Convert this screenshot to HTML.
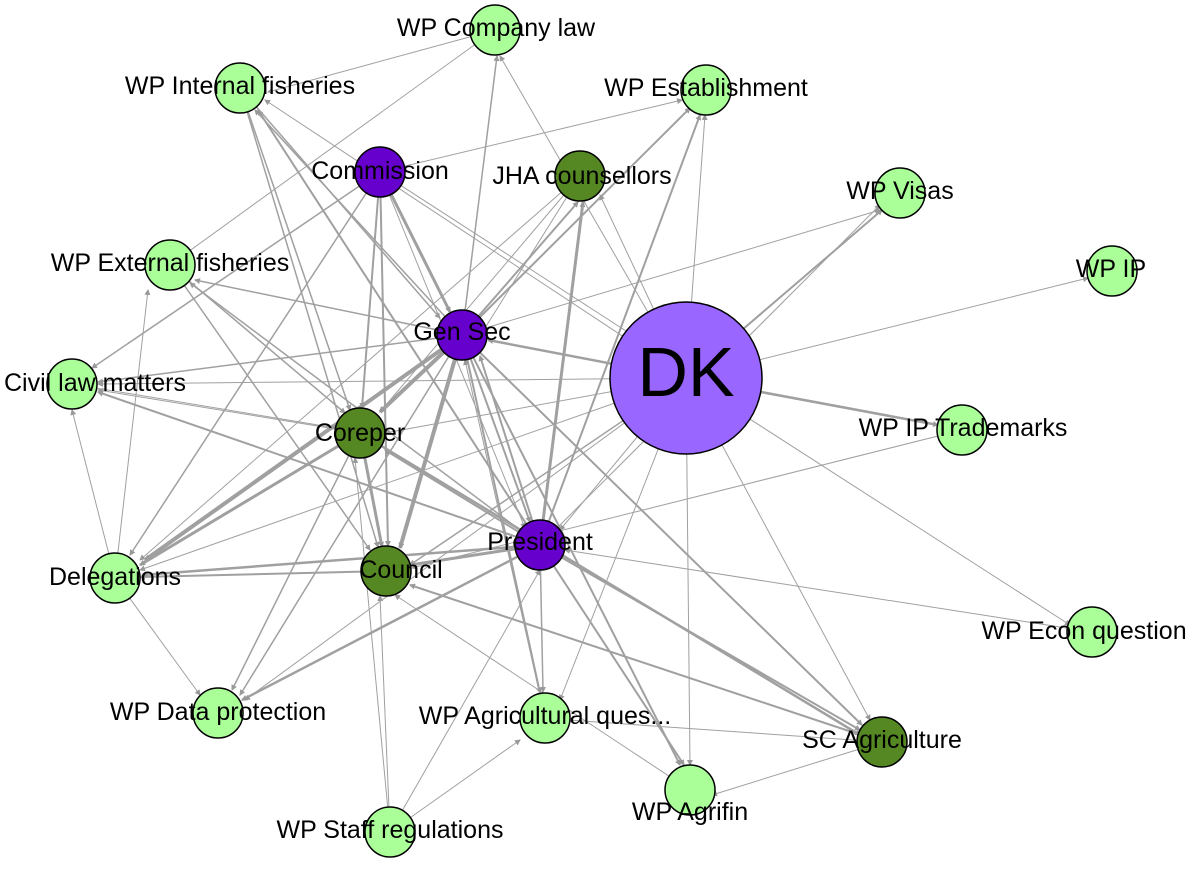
<!DOCTYPE html>
<html><head><meta charset="utf-8"><style>
html,body{margin:0;padding:0;background:#fff;}
svg text{font-family:"Liberation Sans",Arial,sans-serif;font-size:25px;fill:#000;text-anchor:middle;dominant-baseline:central;}
</style></head><body>
<svg width="1191" height="870" viewBox="0 0 1191 870" xmlns="http://www.w3.org/2000/svg">
<defs><marker id="a" markerWidth="6" markerHeight="6" refX="5" refY="3" orient="auto" markerUnits="userSpaceOnUse"><path d="M0,0L6,3L0,6z" fill="#999"/></marker></defs>
<g stroke="#a0a0a0" fill="none" marker-end="url(#a)">
<line x1="462" y1="335" x2="145" y2="560" stroke-width="4"/>
<line x1="462" y1="335" x2="380" y2="412" stroke-width="4"/>
<line x1="462" y1="335" x2="400" y2="548" stroke-width="4"/>
<line x1="462" y1="335" x2="578" y2="202" stroke-width="2"/>
<line x1="462" y1="335" x2="690" y2="108" stroke-width="2"/>
<line x1="462" y1="335" x2="497" y2="56" stroke-width="1.5"/>
<line x1="462" y1="335" x2="255" y2="110" stroke-width="1.5"/>
<line x1="462" y1="335" x2="195" y2="280" stroke-width="1.5"/>
<line x1="462" y1="335" x2="98" y2="382" stroke-width="1.5"/>
<line x1="462" y1="335" x2="240" y2="695" stroke-width="1.5"/>
<line x1="462" y1="335" x2="540" y2="693" stroke-width="2"/>
<line x1="462" y1="335" x2="680" y2="765" stroke-width="2"/>
<line x1="462" y1="335" x2="862" y2="725" stroke-width="2"/>
<line x1="462" y1="335" x2="880" y2="210" stroke-width="1"/>
<line x1="462" y1="335" x2="530" y2="522" stroke-width="2"/>
<line x1="380" y1="172" x2="450" y2="312" stroke-width="3"/>
<line x1="380" y1="172" x2="362" y2="408" stroke-width="2"/>
<line x1="380" y1="172" x2="388" y2="546" stroke-width="2"/>
<line x1="380" y1="172" x2="92" y2="368" stroke-width="1.5"/>
<line x1="380" y1="172" x2="130" y2="555" stroke-width="1.5"/>
<line x1="380" y1="172" x2="682" y2="100" stroke-width="1"/>
<line x1="380" y1="172" x2="525" y2="528" stroke-width="1"/>
<line x1="380" y1="172" x2="640" y2="340" stroke-width="1"/>
<line x1="540" y1="545" x2="142" y2="575" stroke-width="2.5"/>
<line x1="540" y1="545" x2="410" y2="565" stroke-width="3"/>
<line x1="540" y1="545" x2="385" y2="450" stroke-width="2"/>
<line x1="540" y1="545" x2="98" y2="392" stroke-width="2"/>
<line x1="540" y1="545" x2="583" y2="202" stroke-width="3"/>
<line x1="540" y1="545" x2="700" y2="115" stroke-width="2"/>
<line x1="540" y1="545" x2="242" y2="700" stroke-width="2.5"/>
<line x1="540" y1="545" x2="543" y2="692" stroke-width="1.5"/>
<line x1="540" y1="545" x2="684" y2="765" stroke-width="2"/>
<line x1="540" y1="545" x2="860" y2="730" stroke-width="2"/>
<line x1="540" y1="545" x2="480" y2="356" stroke-width="2"/>
<line x1="540" y1="545" x2="258" y2="110" stroke-width="2"/>
<line x1="540" y1="545" x2="190" y2="283" stroke-width="1.5"/>
<line x1="540" y1="545" x2="880" y2="205" stroke-width="1"/>
<line x1="360" y1="433" x2="140" y2="565" stroke-width="3"/>
<line x1="360" y1="433" x2="382" y2="547" stroke-width="3"/>
<line x1="360" y1="433" x2="860" y2="735" stroke-width="2.5"/>
<line x1="360" y1="433" x2="232" y2="690" stroke-width="1.5"/>
<line x1="360" y1="433" x2="98" y2="390" stroke-width="1"/>
<line x1="170" y1="265" x2="345" y2="413" stroke-width="1.5"/>
<line x1="240" y1="88" x2="350" y2="410" stroke-width="1.5"/>
<line x1="72" y1="384" x2="336" y2="428" stroke-width="1"/>
<line x1="386" y1="571" x2="140" y2="577" stroke-width="2"/>
<line x1="882" y1="742" x2="410" y2="585" stroke-width="2"/>
<line x1="170" y1="265" x2="370" y2="550" stroke-width="1.5"/>
<line x1="240" y1="88" x2="378" y2="547" stroke-width="1.5"/>
<line x1="390" y1="832" x2="380" y2="596" stroke-width="1"/>
<line x1="686" y1="378" x2="488" y2="340" stroke-width="2.5"/>
<line x1="686" y1="378" x2="882" y2="210" stroke-width="2"/>
<line x1="686" y1="378" x2="1088" y2="278" stroke-width="1"/>
<line x1="686" y1="378" x2="938" y2="425" stroke-width="2.5"/>
<line x1="686" y1="378" x2="1070" y2="625" stroke-width="1"/>
<line x1="686" y1="378" x2="690" y2="765" stroke-width="1"/>
<line x1="686" y1="378" x2="870" y2="720" stroke-width="1"/>
<line x1="686" y1="378" x2="705" y2="115" stroke-width="1"/>
<line x1="686" y1="378" x2="600" y2="195" stroke-width="1"/>
<line x1="686" y1="378" x2="98" y2="384" stroke-width="1"/>
<line x1="686" y1="378" x2="140" y2="570" stroke-width="1"/>
<line x1="686" y1="378" x2="410" y2="565" stroke-width="1.5"/>
<line x1="686" y1="378" x2="385" y2="433" stroke-width="1"/>
<line x1="686" y1="378" x2="560" y2="530" stroke-width="1"/>
<line x1="686" y1="378" x2="265" y2="100" stroke-width="1"/>
<line x1="686" y1="378" x2="500" y2="56" stroke-width="1"/>
<line x1="686" y1="378" x2="560" y2="700" stroke-width="1"/>
<line x1="686" y1="378" x2="245" y2="700" stroke-width="1"/>
<line x1="962" y1="430" x2="412" y2="568" stroke-width="1"/>
<line x1="1092" y1="632" x2="565" y2="550" stroke-width="1"/>
<line x1="882" y1="742" x2="568" y2="720" stroke-width="1"/>
<line x1="882" y1="742" x2="712" y2="795" stroke-width="1"/>
<line x1="580" y1="176" x2="465" y2="360" stroke-width="1"/>
<line x1="580" y1="176" x2="380" y2="412" stroke-width="1"/>
<line x1="580" y1="176" x2="140" y2="560" stroke-width="1"/>
<line x1="115" y1="578" x2="148" y2="290" stroke-width="1"/>
<line x1="115" y1="578" x2="72" y2="410" stroke-width="1"/>
<line x1="115" y1="578" x2="200" y2="695" stroke-width="1"/>
<line x1="390" y1="832" x2="355" y2="458" stroke-width="1"/>
<line x1="390" y1="832" x2="540" y2="570" stroke-width="1"/>
<line x1="390" y1="832" x2="520" y2="740" stroke-width="1"/>
<line x1="545" y1="718" x2="465" y2="360" stroke-width="1"/>
<line x1="690" y1="790" x2="395" y2="595" stroke-width="1"/>
<line x1="495" y1="30" x2="268" y2="92" stroke-width="1"/>
<line x1="495" y1="30" x2="170" y2="265" stroke-width="1"/>
<line x1="240" y1="88" x2="440" y2="318" stroke-width="1.5"/>
</g>
<g stroke="#000" stroke-width="1.5">
<circle cx="686" cy="378" r="76" fill="#9966ff"/>
<circle cx="380" cy="172" r="25" fill="#6600cc"/>
<circle cx="462" cy="335" r="25" fill="#6600cc"/>
<circle cx="540" cy="545" r="25" fill="#6600cc"/>
<circle cx="580" cy="176" r="25" fill="#558822"/>
<circle cx="360" cy="433" r="25" fill="#558822"/>
<circle cx="386" cy="571" r="25" fill="#558822"/>
<circle cx="882" cy="742" r="25" fill="#558822"/>
<g fill="#aaff99">
<circle cx="495" cy="30" r="25"/>
<circle cx="240" cy="88" r="25"/>
<circle cx="706" cy="90" r="25"/>
<circle cx="900" cy="193" r="25"/>
<circle cx="1112" cy="271" r="25"/>
<circle cx="170" cy="265" r="25"/>
<circle cx="72" cy="384" r="25"/>
<circle cx="962" cy="430" r="25"/>
<circle cx="115" cy="578" r="25"/>
<circle cx="1092" cy="632" r="25"/>
<circle cx="218" cy="713" r="25"/>
<circle cx="545" cy="718" r="25"/>
<circle cx="690" cy="790" r="25"/>
<circle cx="390" cy="832" r="25"/>
</g></g>
<text x="686" y="372" style="font-size:70px">DK</text>
<text x="380" y="171">Commission</text>
<text x="462" y="332">Gen Sec</text>
<text x="540" y="542">President</text>
<text x="582" y="176">JHA counsellors</text>
<text x="360" y="433">Coreper</text>
<text x="401" y="570">Council</text>
<text x="882" y="740">SC Agriculture</text>
<text x="496" y="28">WP Company law</text>
<text x="240" y="86">WP Internal fisheries</text>
<text x="706" y="88">WP Establishment</text>
<text x="900" y="191">WP Visas</text>
<text x="1111" y="269">WP IP</text>
<text x="170" y="263">WP External fisheries</text>
<text x="95" y="383">Civil law matters</text>
<text x="963" y="428">WP IP Trademarks</text>
<text x="115" y="577">Delegations</text>
<text x="1084" y="631">WP Econ question</text>
<text x="218" y="712">WP Data protection</text>
<text x="545" y="716">WP Agricultural ques...</text>
<text x="690" y="812">WP Agrifin</text>
<text x="390" y="830">WP Staff regulations</text>
</svg>
</body></html>
